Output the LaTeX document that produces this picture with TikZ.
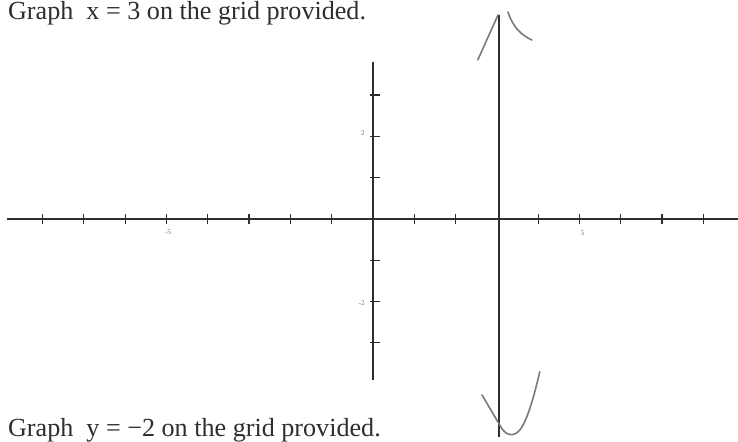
\documentclass[tikz,border=0pt]{standalone}
\usepackage{fontspec}
\setmainfont{Liberation Serif}
\usepackage{tikz}
\usetikzlibrary{positioning}
\definecolor{ink}{HTML}{2E2E2E}
\definecolor{pencil}{HTML}{7A7A7A}

\begin{document}
\begin{tikzpicture}[axis/.style={ink, line width=0.9pt}, tick/.style={ink, line width=0.8pt},
    hand/.style={pencil, line width=1.1pt, line cap=round}, ticklabel/.style={pencil, font=\fontsize{5}{5}\selectfont, inner sep=0pt},
    prompt/.style={ink, font=\fontsize{18}{21}\selectfont, anchor=base west, inner sep=0pt}]
    \useasboundingbox[fill=white] (-9.03,-5.40) rectangle (8.84,5.30);
    \clip (-9.03,-5.40) rectangle (8.84,5.30);
    \node[prompt] (top) at (-8.84,4.82) {Graph\ \ x = 3 on the grid provided.};
    \node[prompt] (bottom) at (-8.84,-5.28) {Graph\ \ y = −2 on the grid provided.};
    % axes
    \coordinate (xl) at (-8.86,0); \coordinate (xr) at (8.84,0);
    \coordinate (yt) at (0,3.80); \coordinate (yb) at (0,-3.90);
    \draw[axis] (xl) -- (xr); \draw[axis] (yt) -- (yb);
    \foreach \i in {-8,...,-1,1,2,4,5,6,7,8} \draw[tick] (\i,-0.13) -- (\i,0.13);
    \foreach \j in {-3,-2,-1,1,2,3} \draw[tick] (-0.06,\j) -- (0.16,\j);
    \node[ticklabel] (lxm) at (-4.96,-0.31) {-5}; \node[ticklabel] (lxp) at (5.08,-0.34) {5};
    \node[ticklabel] (lyp) at (-0.24,2.08) {2}; \node[ticklabel] (lym) at (-0.27,-2.03) {-2};
    % the line x = 3
    \coordinate (vt) at (3.05,4.94); \coordinate (vb) at (3.05,-5.28);
    \draw[ink, line width=1.3pt] (vt) -- (vb);
    \draw[hand] (2.54,3.85) -- (3.03,4.94);
    \draw[hand] (3.27,5.01) .. controls (3.40,4.62) and (3.60,4.45) .. (3.85,4.33);
    \draw[hand] (2.64,-4.26) -- (3.07,-4.99) .. controls (3.20,-5.25) and (3.40,-5.30) .. (3.56,-5.11)
      .. controls (3.75,-4.85) and (3.90,-4.30) .. (4.04,-3.70);
  \end{tikzpicture}
\end{document}
